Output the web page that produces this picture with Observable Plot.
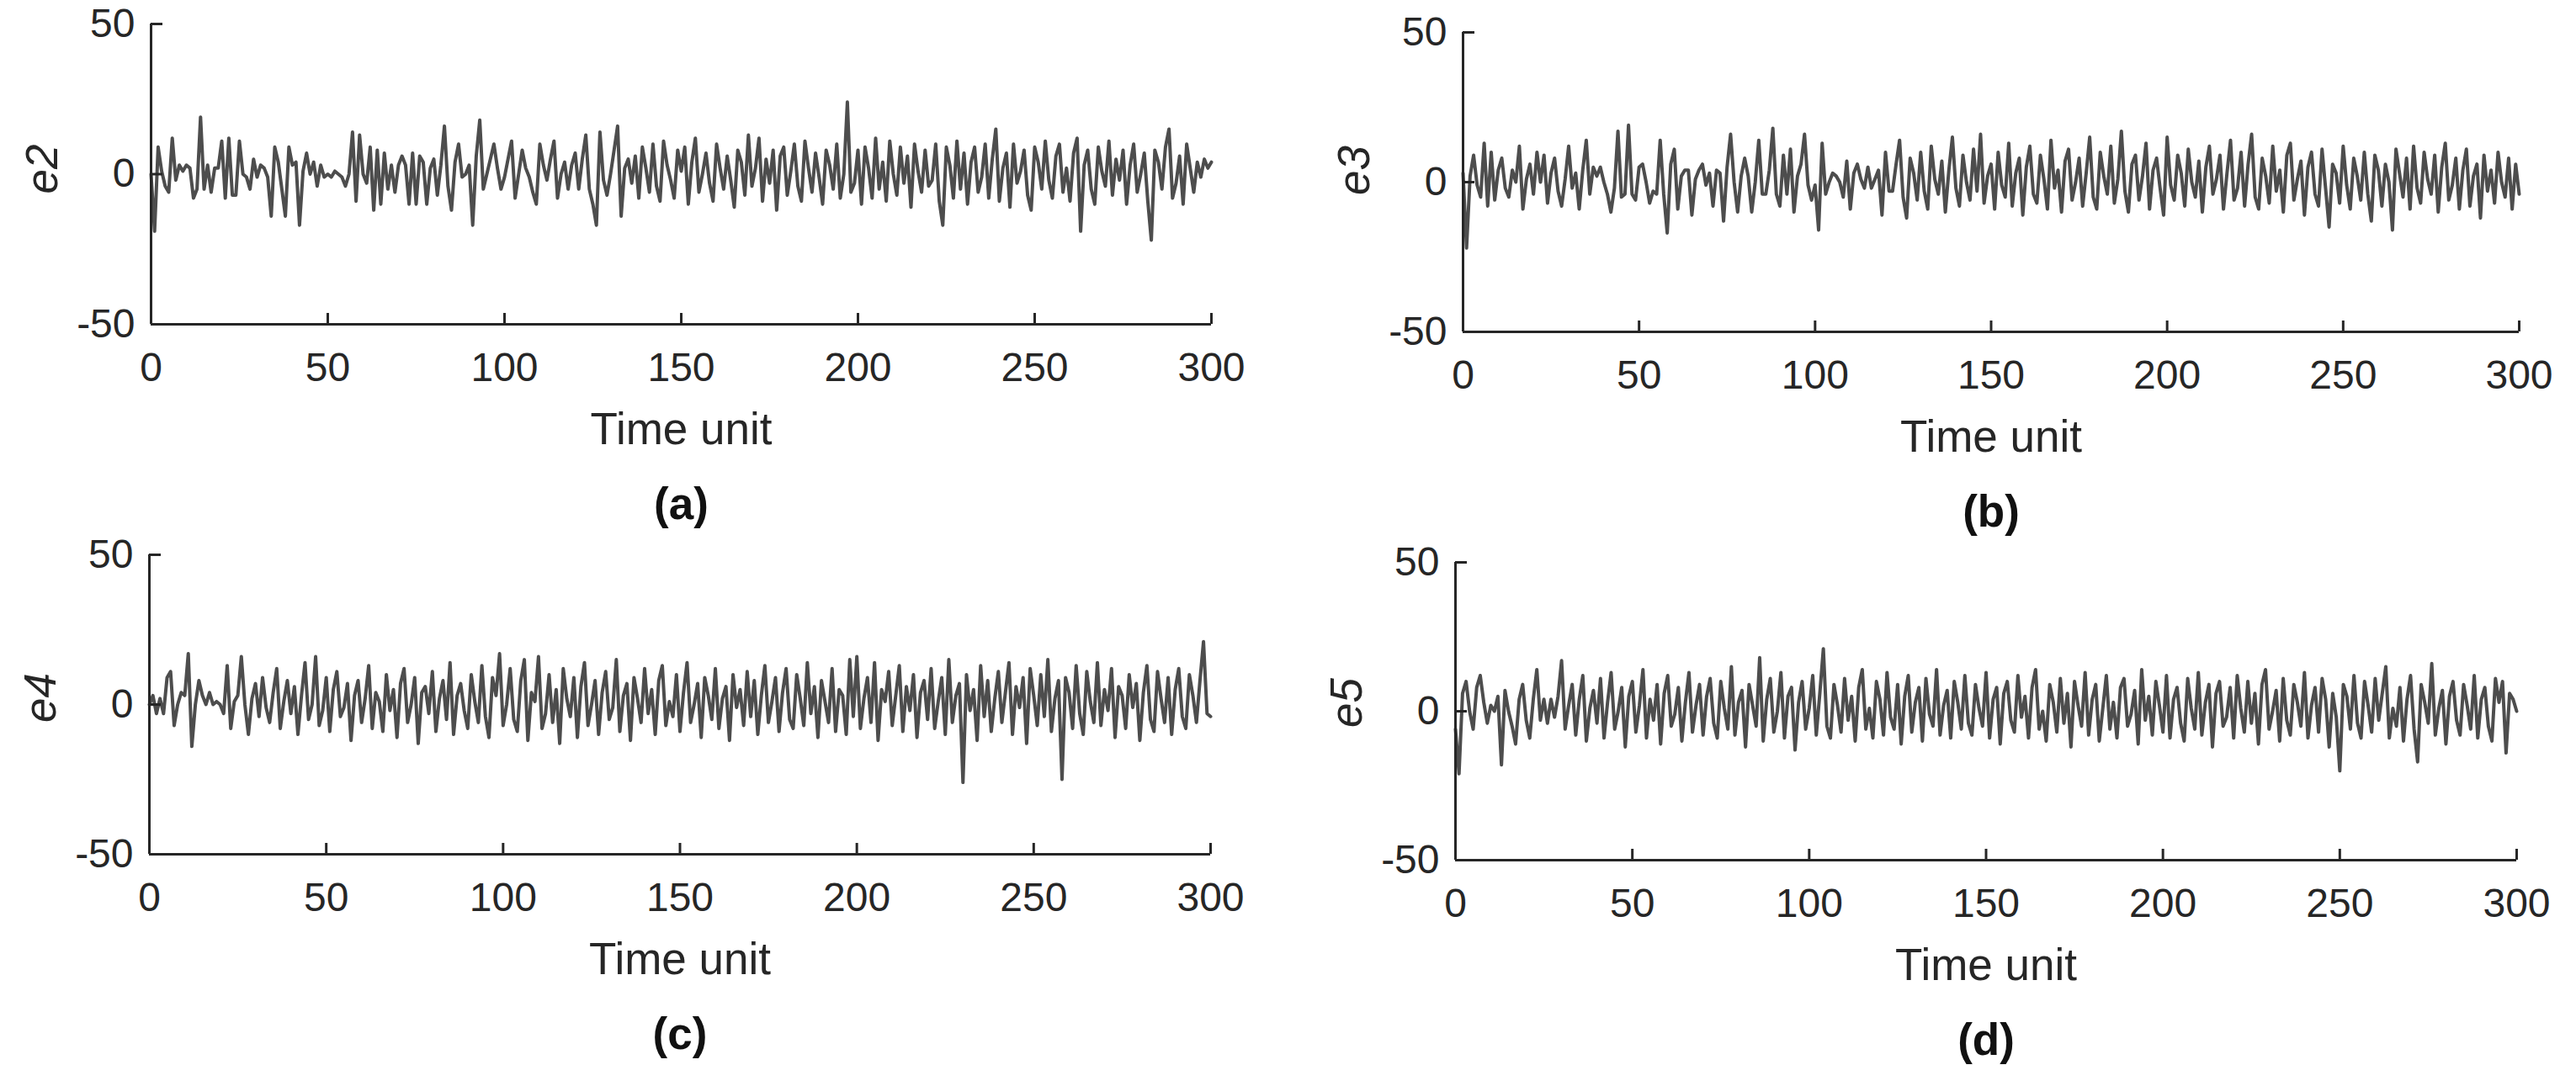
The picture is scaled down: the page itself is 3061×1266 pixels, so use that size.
<!DOCTYPE html>
<html>
<head>
<meta charset="utf-8">
<script src="https://cdn.jsdelivr.net/npm/d3@7"></script>
<script src="https://cdn.jsdelivr.net/npm/@observablehq/plot@0.6"></script>
<style>
  html, body { margin: 0; padding: 0; background: #fff; }
  #chart { position: relative; width: 3061px; height: 1266px; background: #fff; overflow: hidden; }
  #chart > svg { position: absolute; }
</style>
</head>
<body>
<div id="chart"></div>
<script>
// ---------- data (one sample per time unit, t = 0..300) ----------
const e2 = [
  0, -19, 9, 1, -4, -6, 12, -2, 3, 1,
  3, 2, -8, -5, 19, -5, 3, -6, 2, 2,
  11, -8, 12, -7, -7, 11, 0, -1, -5, 5,
  -1, 3, 2, -1, -14, 9, 4, -5, -14, 9,
  3, 4, -17, 1, 7, 0, 4, -4, 3, -1,
  0, -1, 1, 0, -1, -4, 0, 14, -9, 13,
  0, -3, 9, -12, 8, -10, 7, -5, 3, -6,
  3, 6, 3, -10, 7, -10, 6, 4, -10, 2,
  5, -7, 3, 16, -4, -12, 4, 10, -1, 0,
  3, -17, 6, 18, -5, 0, 5, 10, 2, -5,
  -1, 5, 11, -8, 0, 8, 2, -1, -6, -10,
  10, 3, -2, 5, 11, -8, 0, 4, -5, 3,
  7, -5, 5, 13, -5, -10, -17, 14, -2, -7,
  0, 8, 16, -14, 2, 5,
  -3, 6, -8, 9, 2, -6, 10, -4, -9, 11, 3, -2, -8, 8, 1,
  9, -10, 4, 12, -6, 0, 7, -3, -9, 10, 2, -5, 6, -2, -11,
  8, 4, -7, 13, -4, 2, 12, -9, 5, -3, 8, -12, 6, 9, -7,
  1, 10, -4, -9, 11, 2, -6, 7, -1, -10, 8, 3, -5, 10, -8,
  0, 24, -6, -3, 8, -10, 9, 2, -8, 12, -5, 4, -9, 11, 0,
  -7, 9, -3, 6, -11, 10, 1, -6, 8, -4, -2, 10, -9, -17, 9,
  3, -8, 11, -5, 7, -10, 4, 9, -6, -1, 10, -8, 5, 15, -9,
  2, 7, -11, 10, -3, 1, 8, -7, -12, 9, 4, -5, 11, -2, -8,
  6, 10, -6, 2, -9, 7, 12, -19, 3, 8, -5, -10, 9, 1, -4,
  11, -7, 5, -2, 8, -10, 3, 10, -6, 0, 7, -9, -22, 8, 4,
  -5, 9, 15, -8, -3, 6, -10, 10, 2, -6, 4, -1, 5, 2, 4
];

const e3 = [
  3, -22, 2, 9, -1, -5, 13, -8, 10, -6,
  4, 8, -2, -5, 4, 0, 12, -9, 1, 6,
  -4, 10, 0, 9, -7, 3, 8, -3, -8, 1,
  12, -2, 3, -9, 4, 14, -4, 5, 2, 5,
  0, -4, -10, -2, 17, -5, -4, 19, -4, -6,
  5, 6, 0, -7, -3, -4, 14, -4, -17, 6,
  11, -9, 2, 4, 4, -11, 1, 4, 6, -1,
  3, -8, 4, 3, -13, 5, 16, 0, -10, 2,
  8, 2, -10, 0, 14, -4, -4, 4, 18, -4,
  -8, 9, -4, 11, -10, 2, 6, 16, -1, -6,
  -1, -16, 13, -4, 0, 3, 2, 0, -5, 7,
  -9, 3, 6, 1, -2, 5, -2, 1, 4, -11,
  10, -3, -3, 6, 14,
  -5, -12, 8, 3, -6, 10, -3, -9, 12, 1,
  -4, 7, -10, 4, 15, -2, -8, 9, 0, -6,
  11, -3, 16, -7, 2, 6, -9, 10, -1, -5,
  13, -8, 3, 8, -11, 5, 12, -4, -7, 9,
  1, -9, 14, -2, 4, -10, 7, 11, -6, 0,
  8, -8, 3, 15, -5, -9, 10, 2, -4, 12,
  -7, 1, 17, -3, -10, 6, 9, -6, 2, 13,
  -9, 4, 8, -2, -11, 15, -1, -6, 9, 3,
  -8, 11, 0, -5, 7, -10, 5, 12, -4, 1,
  9, -9, 3, 14, -6, -2, 10, -8, 6, 16,
  -5, -9, 8, 2, -7, 12, -3, 4, -10, 9,
  13, -6, 1, 7, -11, 5, 10, -4, -8, 11,
  -2, -15, 6, 3, -7, 12, -1, -9, 8, 2,
  -6, 10, -4, -13, 9, 4, -8, 6, 0, -16,
  11, 3, -5, 8, -9, 12, -2, -7, 10, 1,
  -4, 9, -10, 5, 13, -6, -1, 8, -9, 4,
  11, -8, 2, 6, -12, 9, -3, 4, -7, 10,
  0, -5, 8, -9, 6, -4
];

const e4 = [
  0, 3, -3, 2, -3, 9, 11, -7, 0, 4,
  3, 17, -14, 0, 8, 3, 0, 4, 0, 1,
  0, -3, 13, -8, 1, 3, 16, 0, -10,
  2, 7, -4, 9, -1, -6, 4, 12, -8, 1,
  8, -3, 6, -10, 3, 14, -5, 0, 16, -7,
  -2, 9, -9, 5, 11, -4, -1, 7, -12, 3,
  8, -6, 2, 13, -8, 4, 1, -9, 10, -2,
  5, -11, 7, 12, -6, 0, 9, -13, 4, 6,
  -3, 11, -9, 2, 8, -5, 14, -10, 3, 7,
  -2, -8, 10, 1, -6, 13, -4, -11, 9, 3,
  17, -7, 0, 12, -5, -9, 8, 15, -12, 4,
  1, 16, -8, -3, 10, -6, 5, -13, 12, 2,
  -4, 9, -11, 6, 14, -7, 0, 8, -10, 4,
  11, -5, -1, 15, -9, 3, 7, -12, 9, 2,
  -6, 12, -3, 5, -10, 8, 13, -7, 1, -4,
  10, -9, 4, 14, -6, 0, 7, -11, 9, 3,
  -5, 12, -8, 2, 6, -12, 10, -1, 5, -7,
  11, -4, 8, -10, 3, 13, -6, 1, 9, -9,
  4, 12, -5, -8, 10, 2, -7, 14, -3, 6,
  -11, 8, 1, -6, 12, -9, 5, 3, -10, 15,
  -4, 16, -8, 2, 9, -6, 14, -12, 5, 1,
  11, -7, 3, 13, -9, 6, -2, 10, -11, 4,
  8, -5, 12, -8, 1, 9, -10, 15, -6, 3,
  7, -26, 10, -2, 5, -12, 13, -4, 8, -9,
  2, 11, -6, 4, 14, -10, 6, -1, 9, -13,
  12, 3, -7, 10, -4, 15, -9, 2, 8, -25,
  9, 4, -8, 13, -3, -10, 11, 1, -6, 14,
  -7, 5, -2, 12, -11, 6, 3, -8, 10, -1,
  7, -12, 4, 13, -5, -9, 11, 2, -6, 9,
  -10, 5, 12, -4, -8, 10, 3, -6, 8, 21,
  -3, -4
];

const e5 = [
  -6, -21, 6, 10, 0, -6, 8, 12, 3, -4,
  2, 0, 5, -18, 7, 0, -5, -11, 4, 9,
  -3, -9, 4, 14, -3, 4, -4, 4, -2,
  5, 17, -6, 2, 9, -8, 4, 12, -10, 1,
  7, -4, 11, -9, 3, 13, -6, 0, 8, -12,
  5, 10, -7, 2, 14, -9, 4, -3, 9, -11,
  6, 12, -5, -1, 8, -10, 3, 13, -7, 2,
  9, -8, 5, 11, -4, -9, 10, 1, -6, 15,
  -8, 3, 7, -12, 9, 2, -5, 18, -10, 4,
  11, -7, 0, 13, -9, 5, 8, -13, 3, 10,
  -6, 1, 12, -8, 6, 21, -5, -9, 9, 2,
  -7, 11, -3, 5, -10, 8, 14, -6, 1, -9,
  10, 4, -8, 13, -2, -6, 9, -11, 5, 12,
  -7, 3, 8, -10, 11, -1, -5, 14, -8, 2,
  7, -9, 10, 3, -6, 12, -4, -8, 9, 1,
  -5, 13, -9, 4, 8, -11, 6, 10, -3, -7,
  12, -2, 5, -9, 8, 14, -6, 0, -10, 9,
  3, -7, 11, -4, 6, -12, 10, 2, -5, 13,
  -8, 4, 9, -10, 1, 12, -6, 3, -9, 8,
  11, -5, -1, 7, -11, 14, -3, 5, -8, 10,
  2, -7, 12, -9, 4, 8, -4, -10, 11, 1,
  -6, 13, -8, 3, 9, -12, 6, 10, -5, -2,
  8, -9, 12, 1, -7, 10, -4, 6, -11, 9,
  14, -6, 0, 7, -10, 11, -3, -8, 9, 3,
  -5, 13, -9, 2, 8, -7, 11, 4, -12, 6,
  -2, -20, 9, 5, -6, 12, -4, -9, 10, 2,
  -7, 11, -3, 6, 15, -9, 1, -5, 8, -10,
  4, 12, -6, -17, 9, 3, -4, 16, -8, 1,
  7, -11, 5, 10, -3, -8, 9, 2, -6, 12,
  -9, 4, 8, -5, -10, 11, 3, 10, -14, 6,
  4, 0
];

const yLabels = ["e2", "e3", "e4", "e5"];
const captions = ["(a)", "(b)", "(c)", "(d)"];
const series = [e2, e3, e4, e5];
const xTicks = [0, 50, 100, 150, 200, 250, 300];
const yTicks = [-50, 0, 50];
const xLabel = "Time unit";

// ---------- layout (pixel frame of each panel) ----------
const frames = [
  {left: 179,  right: 1439, top: 28,  bottom: 385,  ylDy: -6},
  {left: 1738, right: 2993, top: 38,  bottom: 394,  ylDy: -14},
  {left: 177,  right: 1438, top: 659, bottom: 1015, ylDy: -8},
  {left: 1729, right: 2990, top: 668, bottom: 1022, ylDy: -10}
];

const axisColor = "#262626";
const lineColor = "#4d4d4d";
const font = "'Liberation Sans', Arial, Helvetica, sans-serif";
const mL = 179, mT = 28, mR = 70, mB = 250;
const fmt = d => String(d);

const chart = document.getElementById("chart");

series.forEach((values, i) => {
  const f = frames[i];
  const width = mL + (f.right - f.left) + mR;
  const height = mT + (f.bottom - f.top) + mB;
  const svg = Plot.plot({
    width, height,
    marginLeft: mL, marginRight: mR, marginTop: mT, marginBottom: mB,
    style: {background: "transparent", maxWidth: "none", overflow: "visible", fontFamily: font, color: axisColor},
    x: {domain: [0, 300], axis: null},
    y: {domain: [-50, 50], axis: null},
    marks: [
      Plot.lineY(values, {stroke: lineColor, strokeWidth: 4, strokeLinejoin: "round"}),
      Plot.axisX(xTicks, {tickSize: -13, tickPadding: 46, tickFormat: fmt, strokeWidth: 3, fontSize: 48, fill: axisColor, stroke: axisColor, label: null}),
      Plot.axisY(yTicks, {tickSize: -14, tickPadding: 33, tickFormat: fmt, strokeWidth: 3, fontSize: 48, fill: axisColor, stroke: axisColor, label: null}),
      Plot.ruleX([0], {stroke: axisColor, strokeWidth: 3}),
      Plot.ruleY([-50], {stroke: axisColor, strokeWidth: 3}),
      Plot.text([yLabels[i]], {text: d => d, frameAnchor: "left", rotate: -90, dx: -112, dy: f.ylDy,
        lineAnchor: "bottom", textAnchor: "middle", fontSize: 53, fontStyle: "italic", fill: axisColor}),
      Plot.text([xLabel], {text: d => d, frameAnchor: "bottom", dy: 142, lineAnchor: "bottom",
        textAnchor: "middle", fontSize: 53, fill: axisColor}),
      Plot.text([captions[i]], {text: d => d, frameAnchor: "bottom", dy: 231, lineAnchor: "bottom",
        textAnchor: "middle", fontSize: 53, fontWeight: "bold", fill: "#111"})
    ]
  });
  svg.style.left = (f.left - mL) + "px";
  svg.style.top = (f.top - mT) + "px";
  chart.appendChild(svg);
});
</script>
</body>
</html>
